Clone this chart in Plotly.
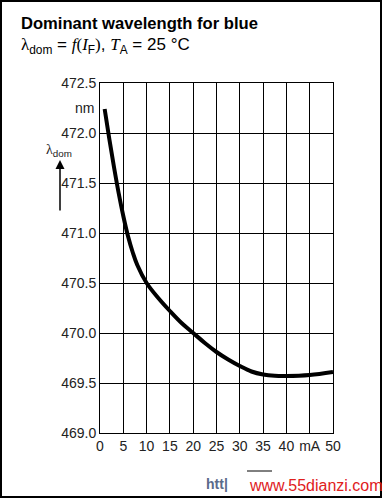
import plotly.graph_objects as go

# data
current_mA = [1, 2, 3, 4, 5, 6, 7, 8, 10, 12.5, 15, 17.5, 20, 22.5, 25, 27.5, 30,
              32.5, 35, 37.5, 40, 45, 50]
wavelength_nm = [472.24, 471.94, 471.66, 471.40, 471.17, 470.97, 470.81, 470.68,
                 470.50, 470.35, 470.22, 470.10, 470.00, 469.90, 469.81, 469.735,
                 469.67, 469.615, 469.585, 469.572, 469.57, 469.58, 469.61]

x_tickvals = [0, 5, 10, 15, 20, 25, 30, 35, 40, 45, 50]
x_ticktext = ["0", "5", "10", "15", "20", "25", "30", "35", "40", "mA", "50"]
y_tickvals = [469.0, 469.5, 470.0, 470.5, 471.0, 471.5, 472.0, 472.5]
y_ticktext = ["469.0", "469.5", "470.0", "470.5", "471.0", "471.5", "472.0", "472.5"]

W, H = 383, 499
L, R, T, B = 100, 50, 83, 66
PW, PH = W - L - R, H - T - B


def px(x):
    return (x - L) / PW


def py(y):
    return (H - B - y) / PH


FONT = "Liberation Sans, Arial, sans-serif"

fig = go.Figure()
fig.add_trace(go.Scatter(
    x=current_mA, y=wavelength_nm, mode="lines",
    line=dict(color="black", width=4, shape="spline", smoothing=1.0),
    hoverinfo="skip", showlegend=False,
))

fig.update_layout(
    width=W, height=H,
    margin=dict(l=L, r=R, t=T, b=B),
    paper_bgcolor="white", plot_bgcolor="white",
    font=dict(family=FONT, size=14, color="#222"),
    xaxis=dict(range=[0, 50], tickvals=x_tickvals, ticktext=x_ticktext,
               showgrid=True, gridcolor="black", gridwidth=1,
               showline=True, linecolor="black", linewidth=1, mirror=True,
               ticks="", zeroline=False, fixedrange=True,
               tickfont=dict(size=14, family=FONT, color="#222")),
    yaxis=dict(range=[469.0, 472.5], tickvals=y_tickvals, ticktext=y_ticktext,
               showgrid=True, gridcolor="black", gridwidth=1,
               showline=True, linecolor="black", linewidth=1, mirror=True,
               ticks="", zeroline=False, fixedrange=True,
               tickfont=dict(size=14, family=FONT, color="#222")),
)

annotations = [
    dict(text="<b>Dominant wavelength for blue</b>", x=px(19), y=py(24),
         xanchor="left", yanchor="middle", font=dict(size=16.6, family=FONT, color="black")),
    dict(text=("<span style='font-family:Liberation Serif'>λ</span><sub>dom</sub> = "
               "<span style='font-family:Liberation Serif'><i>f</i>(<i>I</i></span><sub>F</sub>"
               "<span style='font-family:Liberation Serif'>)</span>, "
               "<span style='font-family:Liberation Serif'><i>T</i></span><sub>A</sub> = 25 °C"),
         x=px(19), y=py(46), xanchor="left", yanchor="middle",
         font=dict(size=17, family=FONT, color="black")),
    dict(text="nm", x=px(96), y=py(108), xanchor="right", yanchor="middle",
         font=dict(size=14, family=FONT, color="#222")),
    dict(text="<span style='font-family:Liberation Serif'>λ</span><sub>dom</sub>",
         x=px(44), y=py(150), xanchor="left", yanchor="middle",
         font=dict(size=14, family=FONT, color="#222")),
    dict(text="", x=px(60), y=py(160), ax=0, ay=52, showarrow=True,
         arrowhead=2, arrowsize=1.2, arrowwidth=1.5, arrowcolor="black",
         xref="paper", yref="paper"),
    dict(text="<b>htt|</b>", x=px(204), y=py(484), xanchor="left", yanchor="middle",
         font=dict(size=14, family=FONT, color="#5a6a8a")),
    dict(text="www.55dianzi.com", x=px(247), y=py(485), xanchor="left", yanchor="middle",
         font=dict(size=16, family=FONT, color="#e0201c")),
]
for a in annotations:
    a.setdefault("xref", "paper")
    a.setdefault("yref", "paper")
    a.setdefault("showarrow", False)
    fig.add_annotation(**a)

# outer border and short watermark line
fig.add_shape(type="rect", xref="paper", yref="paper",
              x0=px(1), x1=px(381), y0=py(1), y1=py(497),
              line=dict(color="black", width=2))
fig.add_shape(type="line", xref="paper", yref="paper",
              x0=px(247), x1=px(272), y0=py(471), y1=py(471),
              line=dict(color="black", width=1))

fig.write_html("out.html", config={"displayModeBar": False, "staticPlot": True},
               post_script="document.body.style.margin='0';document.body.style.overflow='hidden';")
